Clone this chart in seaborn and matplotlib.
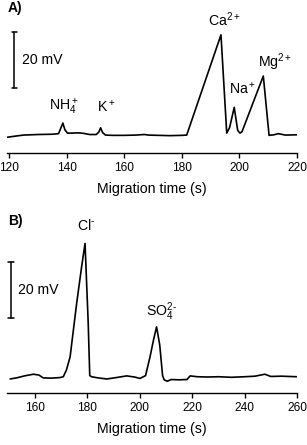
import matplotlib
matplotlib.use("Agg")
import matplotlib.pyplot as plt
import seaborn as sns
import pandas as pd

# ---- Panel A: cations (time in s, signal in mV above baseline) ----
time_a = [119.2, 122, 125, 130, 135, 137.2, 138.0, 138.7, 139.4, 140.3, 142, 144, 146,
          148, 150.3, 151.2, 151.8, 152.5, 153.5, 156, 160, 164, 167, 168.5, 172,
          176, 180, 181.7, 193.6, 195.6, 196.6, 198.2, 199.4, 200.2, 200.9, 208.3,
          210.3, 212, 213.5, 216, 220]
signal_a = [-0.5, -0.1, 0.3, 0.5, 0.6, 0.8, 2.8, 4.6, 2.2, 1.0, 1.0, 1.1, 0.9,
            0.5, 0.5, 1.4, 2.9, 1.2, 0.3, 0.2, 0.2, 0.3, 0.5, 0.3, 0.2,
            0.1, 0.2, 0.3, 36.1, 1.0, 3.0, 10.2, 2.0, 1.0, 1.5, 21.4,
            0.2, 0.4, 0.8, 0.3, 0.4]

# ---- Panel B: anions ----
time_b = [150.5, 153, 156, 159.4, 161.5, 163.1, 166, 169.5, 170.8, 172, 173.4, 175.9,
          177.8, 179.1, 180.3, 180.9, 181.6, 184, 187.4, 191, 195, 198, 200.1,
          202.2, 203.9, 205.3, 206.4, 207.6, 208.7, 209.3, 210.5, 212, 215, 218,
          219.2, 222, 226, 230, 235, 240, 244, 247.7, 250, 254, 259.9]
signal_b = [-0.2, 0.2, 0.9, 1.5, 1.2, 0.2, 0.1, 0.3, 0.6, 3.0, 7.7, 26.8,
            39.9, 48.2, 20.0, 1.0, 0.6, 0.2, -0.2, 0.3, 0.9, 0.5, 0.0,
            1.0, 7.7, 14.0, 18.4, 12.0, 1.0, -0.5, -1.0, -0.4, -0.5, -0.4,
            0.9, 0.6, 0.5, 0.6, 0.4, 0.6, 0.8, 1.5, 0.7, 0.8, 0.6]

xticks_a = [120, 140, 160, 180, 200, 220]
xticks_b = [160, 180, 200, 220, 240, 260]

cation_labels = ["NH$_4^+$", "K$^+$", "Ca$^{2+}$", "Na$^+$", "Mg$^{2+}$"]
cation_label_t = [134.0, 150.6, 189.1, 196.4, 206.5]
cation_label_v = [10.4, 10.4, 41.6, 16.8, 26.4]

anion_labels = ["Cl$^{\u2010}$", "SO$_4^{2\u2010}$"]
anion_label_t = [176.0, 202.3]
anion_label_v = [54.7, 23.8]

sns.set_style("ticks")
plt.rcParams["font.family"] = ["Liberation Sans", "DejaVu Sans"]
plt.rcParams["text.color"] = "black"
plt.rcParams["mathtext.fontset"] = "custom"
plt.rcParams["mathtext.rm"] = "Liberation Sans"
plt.rcParams["mathtext.it"] = "Liberation Sans"
plt.rcParams["mathtext.bf"] = "Liberation Sans:bold"

W, H = 307, 445
fig = plt.figure(figsize=(W / 100, H / 100), dpi=100)

def frac(x0, y_top, x1, y_bot):
    return [x0 / W, 1 - y_bot / H, (x1 - x0) / W, (y_bot - y_top) / H]

ax_a = fig.add_axes(frac(6.7, 20, 297, 153))
ax_b = fig.add_axes(frac(6.7, 230, 297, 392.7))

df_a = pd.DataFrame({"t": time_a, "v": signal_a})
df_b = pd.DataFrame({"t": time_b, "v": signal_b})
sns.lineplot(data=df_a, x="t", y="v", ax=ax_a, color="black", lw=1.2, sort=False)
sns.lineplot(data=df_b, x="t", y="v", ax=ax_b, color="black", lw=1.2, sort=False)

ax_a.set_xlim(119.2, 220)
ax_a.set_ylim(-6.1, 41.4)
ax_b.set_xlim(149.2, 260)
ax_b.set_ylim(-5.1, 53.0)

for ax, ticks in [(ax_a, xticks_a), (ax_b, xticks_b)]:
    sns.despine(ax=ax, left=True, top=True, right=True)
    ax.set_yticks([])
    ax.set_ylabel("")
    ax.set_xticks(ticks)
    ax.tick_params(axis="x", direction="out", length=3.5, width=1.0,
                   labelsize=8.6, pad=3, color="black", labelcolor="black")
    ax.spines["bottom"].set_linewidth(1.0)
    ax.spines["bottom"].set_color("black")
    ax.set_xlabel("Migration time (s)", fontsize=10.2, labelpad=6, color="black")
    ax.patch.set_alpha(0)

# scale bars (20 mV)
def scale_bar(ax, t, v0, half):
    ax.plot([t, t], [v0, v0 + 20], color="black", lw=1.1, clip_on=False)
    ax.plot([t - half, t + half], [v0, v0], color="black", lw=1.1, clip_on=False)
    ax.plot([t - half, t + half], [v0 + 20, v0 + 20], color="black", lw=1.1, clip_on=False)

scale_bar(ax_a, 121.8, 17.1, 0.9)
ax_a.text(124.5, 27.1, "20 mV", fontsize=10.2, ha="left", va="center", color="black")
scale_bar(ax_b, 150.8, 21.4, 1.0)
ax_b.text(153.6, 31.5, "20 mV", fontsize=10.2, ha="left", va="center", color="black")

for lab, t, v in zip(cation_labels, cation_label_t, cation_label_v):
    ax_a.text(t, v, lab, fontsize=10.2, ha="left", va="center", color="black")
for lab, t, v in zip(anion_labels, anion_label_t, anion_label_v):
    ax_b.text(t, v, lab, fontsize=10.2, ha="left", va="center", color="black")

fig.text(8 / W, 1 - 8 / H, "A)", fontsize=10, fontweight="bold", ha="left", va="center", color="black")
fig.text(8 / W, 1 - 221 / H, "B)", fontsize=10, fontweight="bold", ha="left", va="center", color="black")

fig.savefig("out.png", dpi=100)
